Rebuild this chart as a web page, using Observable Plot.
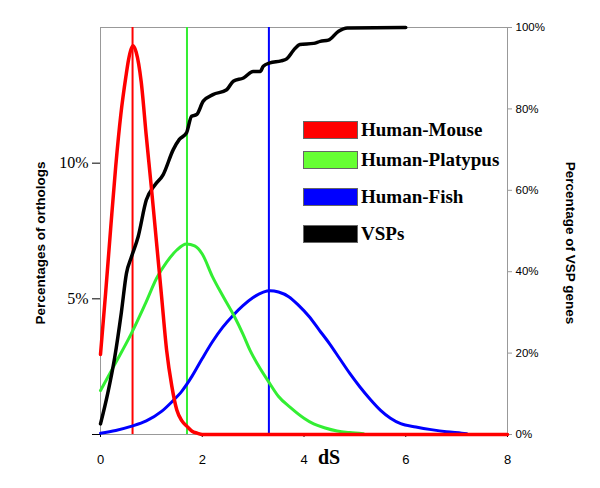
<!DOCTYPE html>
<html>
<head>
<meta charset="utf-8">
<script src="https://cdn.jsdelivr.net/npm/d3@7"></script>
<script src="https://cdn.jsdelivr.net/npm/@observablehq/plot@0.6"></script>
<style>
  html, body { margin: 0; padding: 0; background: #fff; }
  #wrap { position: relative; width: 600px; height: 488px; }
  #legend { position: absolute; left: 303px; top: 119px; font-family: "Liberation Serif", "Times New Roman", serif; font-weight: bold; font-size: 19px; color: #000; }
  .row { position: absolute; left: 0; display: flex; align-items: center; white-space: nowrap; }
  .sw { width: 53px; height: 16px; border: 1px solid #666; margin-right: 3px; }
</style>
</head>
<body>
<div id="wrap"><div id="legend"></div></div>
<script>
// Series names and colours
const seriesNames = ["Human-Mouse", "Human-Platypus", "Human-Fish", "VSPs"];
const seriesColors = ["#ff0000", "#33ee33", "#0000ff", "#000000"];
const legendColors = ["#ff0000", "#66ff33", "#0000ff", "#000000"];

// Human-Mouse dS distribution (% of orthologs)
const mouseDS = [0, 0.1, 0.2, 0.3, 0.4, 0.5, 0.55, 0.6, 0.64, 0.7, 0.8, 0.9, 1.0, 1.1, 1.2, 1.3, 1.4, 1.5, 1.6, 1.7, 1.8, 1.9, 2.0, 3, 4, 5, 6, 7, 8];
const mouseVal = [2.95, 5.2, 7.6, 9.9, 11.8, 13.2, 13.8, 14.2, 14.33, 14.1, 13.0, 11.0, 9.1, 7.1, 5.1, 3.1, 1.8, 0.9, 0.5, 0.3, 0.12, 0.05, 0, 0, 0, 0, 0, 0, 0];

// Human-Platypus dS distribution (% of orthologs)
const platyDS = [0, 0.3, 0.6, 0.9, 1.1, 1.3, 1.5, 1.69, 1.85, 2.0, 2.2, 2.4, 2.64, 2.8, 2.94, 3.1, 3.33, 3.5, 3.73, 4.0, 4.19, 4.4, 4.65, 4.9, 5.17];
const platyVal = [1.62, 2.65, 3.7, 4.9, 5.75, 6.35, 6.8, 7.02, 6.95, 6.65, 5.82, 5.12, 4.32, 3.7, 3.1, 2.55, 1.87, 1.4, 1.0, 0.6, 0.39, 0.25, 0.13, 0.07, 0.03];

// Human-Fish dS distribution (% of orthologs)
const fishDS = [0, 0.3, 0.6, 0.9, 1.2, 1.4, 1.6, 1.8, 2.0, 2.2, 2.4, 2.6, 2.8, 3.0, 3.2, 3.33, 3.5, 3.7, 3.9, 4.1, 4.3, 4.5, 4.7, 4.9, 5.1, 5.3, 5.5, 5.7, 5.9, 6.2, 6.5, 6.8, 7.1, 7.2];
const fishVal = [0.05, 0.15, 0.3, 0.5, 0.85, 1.2, 1.6, 2.15, 2.8, 3.42, 3.95, 4.38, 4.75, 5.05, 5.25, 5.3, 5.25, 5.08, 4.75, 4.35, 3.85, 3.35, 2.8, 2.25, 1.75, 1.3, 0.9, 0.6, 0.4, 0.28, 0.18, 0.1, 0.05, 0.03];

// VSP cumulative (% of VSP genes, right axis)
const vspDS = [0.0, 0.14, 0.28, 0.41, 0.51, 0.61, 0.74, 0.90, 1.07, 1.23, 1.43, 1.55, 1.69, 1.79, 1.89, 2.02, 2.21, 2.48, 2.61, 2.81, 3.0, 3.14, 3.2, 3.33, 3.55, 3.66, 3.8, 3.92, 4.19, 4.32, 4.48, 4.68, 4.85, 6.0];
const vspVal = [2.6, 10, 19, 30, 39.6, 43.7, 48.6, 57.6, 61.3, 63.8, 70.0, 72.5, 74.1, 78.2, 78.6, 81.9, 83.5, 84.7, 86.8, 87.6, 89.2, 89.2, 90.5, 91.3, 91.8, 92.3, 94.5, 95.8, 96.1, 96.6, 96.9, 99.1, 99.9, 100];

// Median dS lines
const medianDS = [0.63, 1.7, 3.31];

// Axis ticks
const xTicks = [0, 2, 4, 6, 8];
const leftTicks = [0, 5, 10];
const rightTicks = [0, 20, 40, 60, 80, 100];

const leftMax = 15;           // left axis: 0–15 %
const rightToLeft = leftMax / 100; // right axis 0–100 % mapped onto left scale

const toRows = (xs, ys) => xs.map((x, i) => ({x, y: ys[i]}));
const mouse = toRows(mouseDS, mouseVal);
const platy = toRows(platyDS, platyVal);
const fish = toRows(fishDS, fishVal);
const vsp = toRows(vspDS, vspVal);

const chart = Plot.plot({
  width: 600,
  height: 488,
  marginLeft: 100,
  marginRight: 93,
  marginTop: 27,
  marginBottom: 54,
  x: {domain: [0, 8]},
  y: {domain: [0, leftMax]},
  style: {background: "#fff"},
  marks: [
    Plot.frame({stroke: "#999", strokeWidth: 1}),
    Plot.axisY(leftTicks, {
      anchor: "left", label: null, tickSize: 8, tickPadding: 4,
      tickFormat: d => d === 0 ? "" : d + "%",
      fontFamily: "Liberation Serif, Times New Roman, serif", fontSize: 16
    }),
    Plot.axisY(rightTicks.map(d => d * rightToLeft), {
      anchor: "right", label: null, tickSize: 4, tickPadding: 4, stroke: "#999",
      tickFormat: d => Math.round(d / rightToLeft) + "%",
      fontFamily: "Liberation Sans, Arial, sans-serif", fontSize: 11.5
    }),
    Plot.axisX(xTicks, {
      label: null, tickSize: 3, tickPadding: 17,
      fontFamily: "Liberation Sans, Arial, sans-serif", fontSize: 13
    }),
    Plot.ruleX(medianDS, {stroke: (d, i) => seriesColors[i], strokeWidth: 2}),
    Plot.line(fish, {x: "x", y: "y", stroke: seriesColors[2], strokeWidth: 3, curve: "monotone-x"}),
    Plot.line(platy, {x: "x", y: "y", stroke: seriesColors[1], strokeWidth: 3, curve: "monotone-x"}),
    Plot.line(vsp, {x: "x", y: d => d.y * rightToLeft, stroke: seriesColors[3], strokeWidth: 3.5, curve: "monotone-x"}),
    Plot.line(mouse, {x: "x", y: "y", stroke: seriesColors[0], strokeWidth: 3.5, curve: "monotone-x"}),
    Plot.text(["Percentages of orthologs"], {
      text: d => d, frameAnchor: "left", textAnchor: "middle", dx: -60, dy: 12, rotate: -90,
      fontWeight: "bold", fontSize: 13.5, fontFamily: "Liberation Sans, Arial, sans-serif", fill: "#000"
    }),
    Plot.text(["Percentage of VSP genes"], {
      text: d => d, frameAnchor: "right", textAnchor: "middle", dx: 63, dy: 12, rotate: 90,
      fontWeight: "bold", fontSize: 13.5, fontFamily: "Liberation Sans, Arial, sans-serif", fill: "#000"
    }),
    Plot.text(["dS"], {
      text: d => d, frameAnchor: "bottom", dx: 25, dy: 29,
      fontWeight: "bold", fontSize: 20, fontFamily: "Liberation Serif, Times New Roman, serif", fill: "#000"
    })
  ]
});
const wrap = document.getElementById("wrap");
wrap.insertBefore(chart, wrap.firstChild);

// Legend (inside the plot area)
const legendTops = [0, 30, 67, 104];
const legend = document.getElementById("legend");
seriesNames.forEach((name, i) => {
  const row = document.createElement("div");
  row.className = "row";
  row.style.top = legendTops[i] + "px";
  const sw = document.createElement("div");
  sw.className = "sw";
  sw.style.background = legendColors[i];
  const label = document.createElement("span");
  label.textContent = name;
  row.appendChild(sw);
  row.appendChild(label);
  legend.appendChild(row);
});
</script>
</body>
</html>
